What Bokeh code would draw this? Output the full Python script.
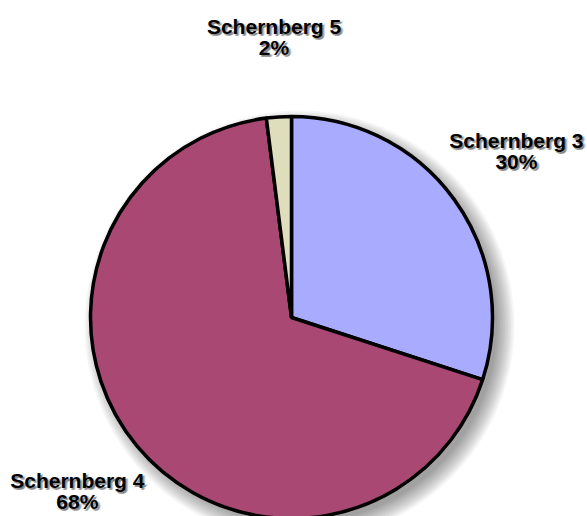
import math
from bokeh.plotting import figure
from bokeh.models import ColumnDataSource, Range1d
from bokeh.core.properties import value
from bokeh.embed import file_html
from bokeh.resources import INLINE

categories = ["Schernberg 3", "Schernberg 4", "Schernberg 5"]
percents = [30, 68, 2]
colors = ["#A9ABFE", "#A84873", "#DEDDBC"]

W, H = 587, 516
cx, cy, R = 291, 199, 201
label_r = 278

total = sum(percents)
starts, ends, lx, ly, pct_txt = [], [], [], [], []
a = math.pi / 2
for v in percents:
    sweep = 2 * math.pi * v / total
    starts.append(a)
    ends.append(a - sweep)
    mid = a - sweep / 2
    lx.append(cx + label_r * math.cos(mid))
    ly.append(cy + label_r * math.sin(mid))
    pct_txt.append(f"{v}%")
    a -= sweep

src = ColumnDataSource(dict(cat=categories, val=percents, color=colors,
                            start=starts, end=ends, lx=lx, ly=ly, pct=pct_txt,
                            ly1=[y + 14 for y in ly], ly2=[y - 7 for y in ly]))

p = figure(width=W, height=H, output_backend="svg", toolbar_location=None,
           x_range=Range1d(0, W), y_range=Range1d(0, H), min_border=0)
p.axis.visible = False
p.grid.visible = False
p.outline_line_color = None
p.background_fill_color = "white"

# soft drop shadow for the pie
for i in range(12):
    p.circle(x=[cx + 8], y=[cy - 8], radius=R + 14 - i * 1.6,
             fill_color="black", fill_alpha=0.035, line_color=None)

p.wedge(x=cx, y=cy, radius=R, start_angle="start", end_angle="end",
        direction="clock", fill_color="color", line_color="black",
        line_width=3.5, source=src)

font = value("Liberation Sans")
fs = "21px"
for dx, dy, alpha in [(2, -2, 0.25), (3, -1, 0.15), (1, -2, 0.2)]:
    p.text(x="lx", y="ly1", text="cat", source=src, x_offset=dx, y_offset=-dy,
           text_font=font, text_font_style="bold", text_font_size=fs,
           text_align="center", text_baseline="middle", text_color="black",
           text_alpha=alpha)
    p.text(x="lx", y="ly2", text="pct", source=src, x_offset=dx, y_offset=-dy,
           text_font=font, text_font_style="bold", text_font_size=fs,
           text_align="center", text_baseline="middle", text_color="black",
           text_alpha=alpha)

p.text(x="lx", y="ly1", text="cat", source=src, text_font=font,
       text_font_style="bold", text_font_size=fs, text_align="center",
       text_baseline="middle", text_color="black")
p.text(x="lx", y="ly2", text="pct", source=src, text_font=font,
       text_font_style="bold", text_font_size=fs, text_align="center",
       text_baseline="middle", text_color="black")

open("out.html", "w").write(file_html(p, INLINE))
